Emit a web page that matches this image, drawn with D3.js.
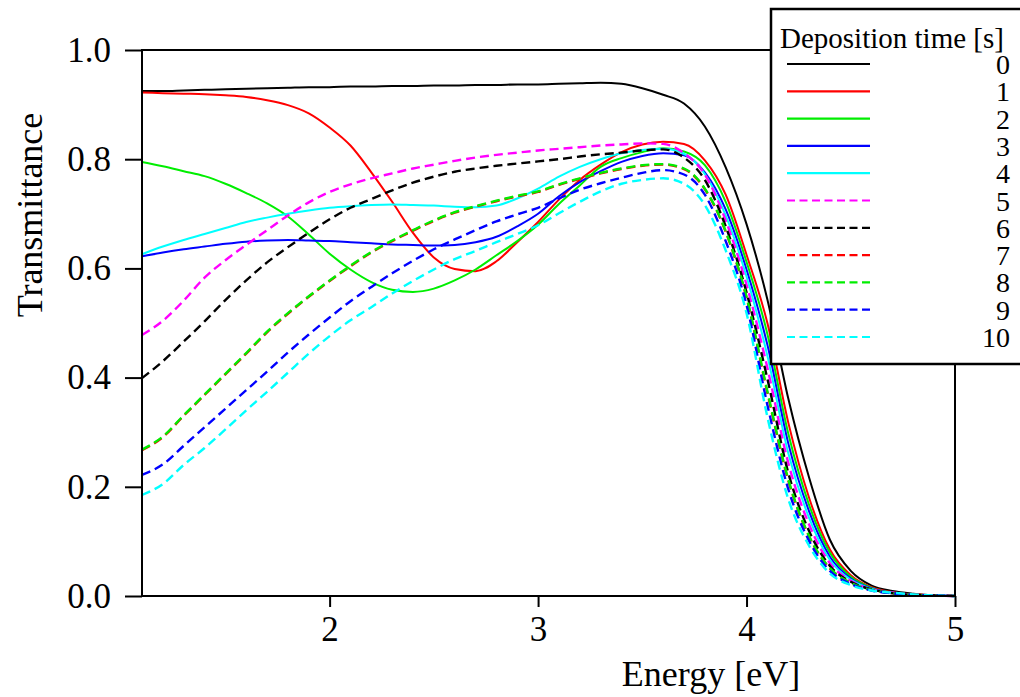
<!DOCTYPE html>
<html>
<head>
<meta charset="utf-8">
<script src="https://cdn.jsdelivr.net/npm/d3@7"></script>
<style>
  body { margin: 0; background: #fff; }
  svg { display: block; }
  svg text { font-family: "Liberation Serif", "Times New Roman", serif !important; fill: #000; }
</style>
</head>
<body>
<div id="chart"></div>
<script>
// photon energy grid [eV]
var energy = [1.1,1.2,1.3,1.4,1.5,1.6,1.7,1.8,1.9,2.0,2.1,2.2,2.3,2.4,2.5,2.6,2.7,2.8,2.9,3.0,
              3.1,3.2,3.3,3.4,3.5,3.6,3.7,3.8,3.9,4.0,4.1,4.2,4.3,4.4,4.5,4.6,4.7,4.8,4.9,5.0]

// transmittance for each deposition time
var trans0 = [0.925,0.925,0.926,0.927,0.928,0.929,0.930,0.931,0.932,0.932,0.933,0.933,0.934,0.934,0.935,0.935,0.936,0.936,0.937,0.937,
              0.938,0.939,0.940,0.938,0.930,0.918,0.902,0.860,0.785,0.681,0.543,0.362,0.217,0.103,0.046,0.019,0.009,0.004,0.001,0.000]
var trans1 = [0.922,0.921,0.920,0.919,0.917,0.914,0.908,0.899,0.884,0.858,0.825,0.776,0.722,0.665,0.620,0.599,0.595,0.613,0.648,0.685,
              0.726,0.762,0.790,0.813,0.827,0.832,0.828,0.798,0.735,0.625,0.500,0.318,0.180,0.085,0.038,0.016,0.007,0.003,0.001,0.000]
var trans2 = [0.795,0.787,0.778,0.769,0.755,0.738,0.719,0.695,0.662,0.627,0.598,0.575,0.561,0.557,0.563,0.578,0.598,0.624,0.650,0.680,
              0.718,0.752,0.786,0.802,0.813,0.820,0.814,0.789,0.722,0.612,0.480,0.298,0.167,0.079,0.035,0.015,0.006,0.002,0.001,0.000]
var trans3 = [0.622,0.629,0.635,0.640,0.645,0.649,0.651,0.652,0.651,0.650,0.648,0.646,0.644,0.643,0.642,0.643,0.648,0.658,0.677,0.700,
              0.732,0.758,0.778,0.795,0.806,0.811,0.807,0.776,0.708,0.598,0.460,0.280,0.155,0.072,0.032,0.014,0.006,0.002,0.001,0.000]
var trans4 = [0.626,0.640,0.652,0.663,0.674,0.685,0.693,0.700,0.706,0.711,0.714,0.716,0.717,0.716,0.715,0.713,0.712,0.715,0.728,0.746,
              0.768,0.786,0.800,0.811,0.817,0.819,0.810,0.773,0.697,0.585,0.440,0.262,0.143,0.066,0.030,0.013,0.006,0.002,0.001,0.000]
var trans5 = [0.478,0.504,0.541,0.583,0.615,0.643,0.670,0.697,0.721,0.740,0.754,0.765,0.774,0.783,0.790,0.797,0.803,0.808,0.812,0.816,
              0.819,0.822,0.825,0.827,0.829,0.828,0.811,0.772,0.688,0.570,0.418,0.244,0.131,0.060,0.028,0.012,0.006,0.002,0.001,0.000]
var trans6 = [0.399,0.430,0.466,0.503,0.542,0.578,0.611,0.639,0.665,0.690,0.711,0.727,0.743,0.757,0.768,0.777,0.783,0.788,0.792,0.796,
              0.800,0.805,0.809,0.812,0.816,0.818,0.803,0.762,0.677,0.556,0.398,0.226,0.119,0.055,0.026,0.012,0.005,0.002,0.001,0.000]
var trans7 = [0.267,0.291,0.330,0.368,0.406,0.444,0.483,0.517,0.548,0.577,0.604,0.629,0.650,0.669,0.687,0.702,0.713,0.723,0.732,0.740,
              0.753,0.764,0.774,0.782,0.788,0.790,0.782,0.745,0.667,0.546,0.372,0.212,0.109,0.050,0.024,0.011,0.005,0.002,0.001,0.000]
var trans8 = [0.268,0.292,0.331,0.369,0.407,0.445,0.484,0.518,0.549,0.578,0.605,0.630,0.651,0.670,0.688,0.703,0.714,0.724,0.733,0.741,
              0.754,0.765,0.775,0.783,0.789,0.791,0.783,0.746,0.668,0.548,0.375,0.214,0.110,0.051,0.024,0.011,0.005,0.002,0.001,0.000]
var trans9 = [0.222,0.241,0.275,0.309,0.343,0.377,0.411,0.446,0.479,0.510,0.540,0.566,0.591,0.614,0.635,0.653,0.670,0.686,0.699,0.711,
              0.728,0.744,0.756,0.766,0.775,0.780,0.772,0.735,0.650,0.533,0.350,0.196,0.101,0.046,0.022,0.010,0.005,0.002,0.001,0.000]
var trans10 = [0.185,0.205,0.240,0.271,0.305,0.340,0.374,0.409,0.444,0.476,0.505,0.529,0.554,0.577,0.598,0.617,0.632,0.648,0.663,0.679,
               0.701,0.722,0.741,0.755,0.762,0.765,0.755,0.716,0.633,0.518,0.328,0.178,0.092,0.041,0.020,0.010,0.006,0.003,0.001,0.000]

var depTimes = ["0","1","2","3","4","5","6","7","8","9","10"]
var colors = ["#000000","#ff0000","#00ee00","#0000ff","#00ffff","#ff00ff","#000000","#ff0000","#00ee00","#0000ff","#00ffff"]
var dashed = [false,false,false,false,false,true,true,true,true,true,true]
var yTicks = [0, 0.2, 0.4, 0.6, 0.8, 1.0]
var xTicks = [2, 3, 4, 5]

var allTrans = [trans0,trans1,trans2,trans3,trans4,trans5,trans6,trans7,trans8,trans9,trans10]

var margin = { top: 50, left: 142, right: 65, bottom: 101 },
    width = 1020 - margin.left - margin.right,
    height = 697 - margin.top - margin.bottom;

var root = d3.select("#chart")
    .append("svg")
    .attr("width", 1020)
    .attr("height", 697)

var svg = root.append("g")
    .attr("transform", "translate(" + margin.left + "," + margin.top + ")");

var xPositionScale = d3.scaleLinear()
    .domain([1.1, 5])
    .range([0, width])

var yPositionScale = d3.scaleLinear()
    .domain([0, 1])
    .range([height, 0])

// axes (ticks only, frame drawn separately)
var yAxis = d3.axisLeft(yPositionScale)
    .tickValues(yTicks)
    .tickFormat(d3.format(".1f"))
    .tickSize(17)
    .tickPadding(14)

svg.append("g")
    .attr("class", "axis y-axis")
    .call(yAxis)
    .attr("font-family", null)
    .attr("font-size", null)
    .call(function(g) { g.select(".domain").remove() })

var xAxis = d3.axisBottom(xPositionScale)
    .tickValues(xTicks)
    .tickFormat(d3.format("d"))
    .tickSize(11)
    .tickPadding(9)

svg.append("g")
    .attr("class", "axis x-axis")
    .attr("transform", "translate(0," + height + ")")
    .call(xAxis)
    .attr("font-family", null)
    .attr("font-size", null)
    .call(function(g) { g.select(".domain").remove() })

svg.selectAll(".tick line")
    .attr("stroke", "#000")
    .attr("stroke-width", 2)

svg.selectAll(".tick text")
    .style("font-size", "35px")
    .attr("fill", "#000")

// the curves
var line = d3.line()
    .x(function(d) { return xPositionScale(d[0]) })
    .y(function(d) { return yPositionScale(d[1]) })
    .curve(d3.curveMonotoneX)

var series = allTrans.map(function(vals, i) {
  return {
    name: depTimes[i],
    color: colors[i],
    dashed: dashed[i],
    points: energy.map(function(e, j) { return [e, vals[j]] })
  }
})

svg.selectAll(".curve")
    .data(series)
    .enter().append("path")
    .attr("class", "curve")
    .attr("d", function(d) { return line(d.points) })
    .attr("fill", "none")
    .attr("stroke", function(d) { return d.color })
    .attr("stroke-width", function(d) { return d.dashed ? 2.4 : 2 })
    .attr("stroke-dasharray", function(d) { return d.dashed ? "9,5" : null })

// plot frame
svg.append("rect")
    .attr("x", 0)
    .attr("y", 0)
    .attr("width", width)
    .attr("height", height)
    .attr("fill", "none")
    .attr("stroke", "#000")
    .attr("stroke-width", 2)

// axis titles
root.append("text")
    .text("Energy [eV]")
    .attr("x", 711)
    .attr("y", 686)
    .attr("text-anchor", "middle")
    .style("font-size", "36px")

root.append("text")
    .text("Transmittance")
    .attr("transform", "translate(42,215) rotate(-90)")
    .attr("text-anchor", "middle")
    .style("font-size", "36px")

// legend
var legend = root.append("g").attr("class", "legend")

legend.append("rect")
    .attr("x", 771)
    .attr("y", 9)
    .attr("width", 260)
    .attr("height", 355)
    .attr("fill", "#fff")
    .attr("stroke", "#000")
    .attr("stroke-width", 2.5)

legend.append("text")
    .text("Deposition time [s]")
    .attr("x", 780)
    .attr("y", 48)
    .style("font-size", "29px")

var rowScale = d3.scalePoint()
    .domain(depTimes)
    .range([64, 337])

var rows = legend.selectAll(".row")
    .data(series)
    .enter().append("g")
    .attr("class", "row")
    .attr("transform", function(d) { return "translate(0," + rowScale(d.name) + ")" })

rows.append("line")
    .attr("x1", 787)
    .attr("x2", 870)
    .attr("y1", 0)
    .attr("y2", 0)
    .attr("stroke", function(d) { return d.color })
    .attr("stroke-width", 2.2)
    .attr("stroke-dasharray", function(d) { return d.dashed ? "8,4.5" : null })

rows.append("text")
    .text(function(d) { return d.name })
    .attr("x", 1010)
    .attr("y", 10)
    .attr("text-anchor", "end")
    .style("font-size", "28px")
</script>
</body>
</html>
